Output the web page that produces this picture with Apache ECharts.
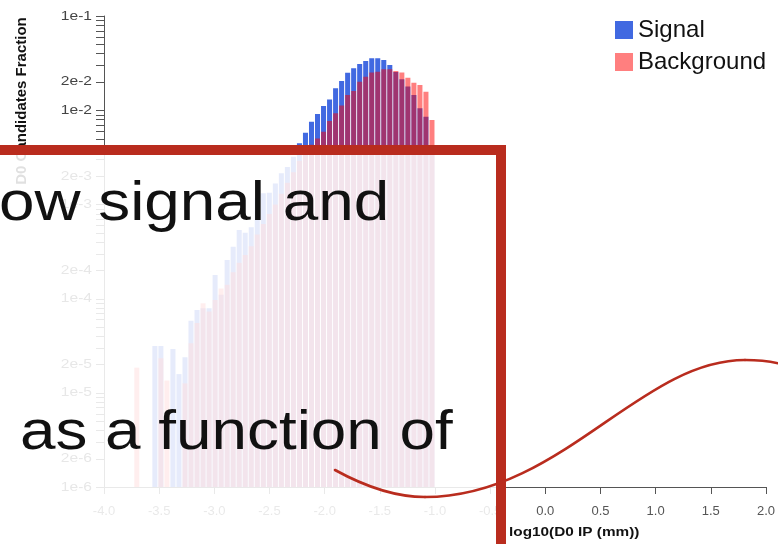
<!DOCTYPE html>
<html>
<head>
<meta charset="utf-8">
<script src="https://cdn.jsdelivr.net/npm/echarts@6/dist/echarts.min.js"></script>
<style>
  html, body { margin: 0; padding: 0; background: #fff; }
  #chart { width: 778px; height: 544px; }
</style>
</head>
<body>
<div id="chart"></div>
<script>
// Histogram binning of log10(D0 IP / mm)
const binStart = -3.73;
const binWidth = 0.0546;

// Normalised fraction of D0 candidates per bin (null = empty bin)
const signalFraction = [
  null, null, null, 3.14e-5, 3.14e-5, null, 2.92e-5, 1.58e-5, 2.38e-5, 5.82e-5,
  7.56e-5, 7.9e-5, 7.88e-5, 1.78e-4, 1.1e-4, 2.57e-4, 3.56e-4, 5.35e-4, 5.0e-4, 5.71e-4,
  1.16e-3, 1.31e-3, 1.33e-3, 1.67e-3, 2.14e-3, 2.5e-3, 3.2e-3, 4.46e-3, 5.77e-3, 7.55e-3,
  9.12e-3, 1.11e-2, 1.30e-2, 1.71e-2, 2.04e-2, 2.50e-2, 2.78e-2, 3.09e-2, 3.33e-2, 3.56e-2,
  3.56e-2, 3.41e-2, 3.02e-2, 2.55e-2, 2.13e-2, 1.78e-2, 1.45e-2, 1.05e-2, 8.53e-3, 3.5e-3
];
const backgroundFraction = [
  1.85e-5, null, null, null, 2.32e-5, 1.35e-5, null, null, 1.26e-5, 3.35e-5,
  5.5e-5, 8.9e-5, 7.3e-5, 9.66e-5, 1.28e-4, 1.4e-4, 1.9e-4, 2.4e-4, 2.9e-4, 3.6e-4,
  4.8e-4, 6.2e-4, 7.9e-4, 1.0e-3, 1.3e-3, 1.7e-3, 2.2e-3, 2.9e-3, 3.6e-3, 4.3e-3,
  5.0e-3, 5.9e-3, 7.67e-3, 9.27e-3, 1.12e-2, 1.45e-2, 1.60e-2, 2.01e-2, 2.27e-2, 2.52e-2,
  2.56e-2, 2.72e-2, 2.72e-2, 2.6e-2, 2.52e-2, 2.21e-2, 1.96e-2, 1.85e-2, 1.57e-2, 7.87e-3
];

// Axis ticks
const xTickLabels = ['-4.0', '-3.5', '-3.0', '-2.5', '-2.0', '-1.5', '-1.0', '-0.5', '0.0', '0.5', '1.0', '1.5', '2.0'];
const yTickMantissas = [1, 2, 3, 4, 5, 6, 7, 8, 9];
const yTickDecades = [-6, -5, -4, -3, -2];
const yTickLabels = ['1e-6', '2e-6', '1e-5', '2e-5', '1e-4', '2e-4', '1e-3', '2e-3', '1e-2', '2e-2', '1e-1'];

const xMin = -4, xMax = 2, xStep = 0.5;
const yMin = 1e-6, yMax = 1e-1;

const FONT = '"Liberation Sans", Arial, Helvetica, sans-serif';
const axisColor = '#555';
const labelColor = '#444';
const accentRed = '#B92C1E';

function binRows(values) {
  const rows = [];
  values.forEach(function (v, i) {
    if (v == null) return;
    const lo = binStart + i * binWidth;
    rows.push([lo, lo + binWidth, v]);
  });
  return rows;
}

function barRenderer(color) {
  return function (params, api) {
    const top = api.coord([api.value(0), api.value(2)]);
    const base = api.coord([api.value(1), yMin]);
    return {
      type: 'rect',
      shape: { x: top[0] + 0.5, y: top[1], width: base[0] - top[0] - 1, height: base[1] - top[1] },
      style: { fill: color }
    };
  };
}

// Log-axis ticks at every mantissa, labels only where listed
const yTickRows = [];
yTickDecades.forEach(function (d) {
  yTickMantissas.forEach(function (m) {
    yTickRows.push([xMin, Number(m + 'e' + d)]);
  });
});
yTickRows.push([xMin, yMax]);
const yLabelValues = yTickLabels.map(Number);

// Wave accent drawn across the lower right, as cubic segments
function waveSegment(x1, y1, cpx1, cpy1, cpx2, cpy2, x2, y2) {
  return {
    type: 'bezierCurve',
    z: 102,
    shape: { x1: x1, y1: y1, cpx1: cpx1, cpy1: cpy1, cpx2: cpx2, cpy2: cpy2, x2: x2, y2: y2 },
    style: { stroke: accentRed, lineWidth: 2.6, fill: null, lineCap: 'round' }
  };
}

const chart = echarts.init(document.getElementById('chart'));

chart.setOption({
  animation: false,
  textStyle: { fontFamily: FONT },
  grid: { left: 104, right: 0, top: 16, bottom: 57, containLabel: false },
  legend: {
    orient: 'vertical',
    left: 610,
    top: 13,
    itemWidth: 18,
    itemHeight: 18,
    itemGap: 8,
    icon: 'rect',
    textStyle: { fontSize: 24, color: '#111', fontFamily: FONT },
    data: ['Signal', 'Background']
  },
  xAxis: {
    type: 'value',
    min: xMin,
    max: xMax,
    interval: xStep,
    axisLine: { onZero: false, lineStyle: { color: axisColor, width: 1 } },
    axisTick: { length: 7, lineStyle: { color: axisColor } },
    axisLabel: {
      color: '#555',
      fontSize: 13,
      margin: 18,
      formatter: function (v) { return xTickLabels[Math.round((v - xMin) / xStep)]; }
    },
    splitLine: { show: false }
  },
  yAxis: {
    type: 'log',
    logBase: 10,
    min: yMin,
    max: yMax,
    axisLine: { show: true, onZero: false, lineStyle: { color: axisColor, width: 1 } },
    axisTick: { show: false },
    axisLabel: { show: false },
    splitLine: { show: false }
  },
  series: [
    {
      name: 'Signal',
      type: 'custom',
      itemStyle: { color: '#4169E1' },
      encode: { x: [0, 1], y: 2 },
      renderItem: barRenderer('#4169E1'),
      data: binRows(signalFraction),
      z: 2
    },
    {
      name: 'Background',
      type: 'custom',
      itemStyle: { color: 'rgba(255,0,0,0.5)' },
      encode: { x: [0, 1], y: 2 },
      renderItem: barRenderer('rgba(255,0,0,0.5)'),
      data: binRows(backgroundFraction),
      z: 3
    },
    {
      name: 'yTicks',
      type: 'custom',
      silent: true,
      encode: { x: 0, y: 1 },
      data: yTickRows,
      z: 4,
      renderItem: function (params, api) {
        const v = api.value(1);
        const p = api.coord([api.value(0), v]);
        const y = Math.round(p[1]) + 0.5;
        const children = [{
          type: 'line',
          shape: { x1: p[0] - 8, y1: y, x2: p[0], y2: y },
          style: { stroke: axisColor, lineWidth: 1 }
        }];
        const li = yLabelValues.findIndex(function (lv) { return Math.abs(lv / v - 1) < 1e-6; });
        if (li >= 0) {
          children.push({
            type: 'text',
            x: p[0] - 12,
            y: p[1],
            scaleX: 1.2,
            style: {
              text: yTickLabels[li],
              align: 'right', verticalAlign: 'middle',
              textAlign: 'right', textVerticalAlign: 'middle',
              fill: labelColor,
              font: '13px ' + FONT
            }
          });
        }
        return { type: 'group', children: children };
      }
    }
  ],
  graphic: [
    {
      type: 'text',
      x: 22, y: 101,
      rotation: Math.PI / 2,
      z: 10,
      style: {
        text: 'D0 Candidates Fraction',
        font: 'bold 15px ' + FONT,
        fill: '#111',
        align: 'center', verticalAlign: 'middle',
        textAlign: 'center', textVerticalAlign: 'middle'
      }
    },
    {
      type: 'text',
      x: 509, y: 532,
      scaleX: 1.18,
      z: 10,
      style: {
        text: 'log10(D0 IP (mm))',
        font: 'bold 13px ' + FONT,
        fill: '#111',
        align: 'left', verticalAlign: 'middle',
        textAlign: 'left', textVerticalAlign: 'middle'
      }
    },
    // Slide call-out box laid over the plot
    {
      type: 'rect',
      z: 100,
      shape: { x: -20, y: 150, width: 521, height: 420 },
      style: { fill: 'rgba(255,255,255,0.87)', stroke: accentRed, lineWidth: 10 }
    },
    {
      type: 'text',
      x: -1, y: 205,
      scaleX: 1.16,
      z: 101,
      style: {
        text: 'ow signal and',
        font: '55px ' + FONT,
        fill: '#111',
        align: 'left', verticalAlign: 'middle',
        textAlign: 'left', textVerticalAlign: 'middle'
      }
    },
    {
      type: 'text',
      x: 20, y: 434,
      scaleX: 1.16,
      z: 101,
      style: {
        text: 'as a function of',
        font: '55px ' + FONT,
        fill: '#111',
        align: 'left', verticalAlign: 'middle',
        textAlign: 'left', textVerticalAlign: 'middle'
      }
    },
    waveSegment(335, 470, 365, 486.5, 395, 497, 425, 497),
    waveSegment(425, 497, 560, 497, 640, 360, 745, 360),
    waveSegment(745, 360, 760, 360, 770, 361.5, 778, 363.3)
  ]
});
</script>
</body>
</html>
